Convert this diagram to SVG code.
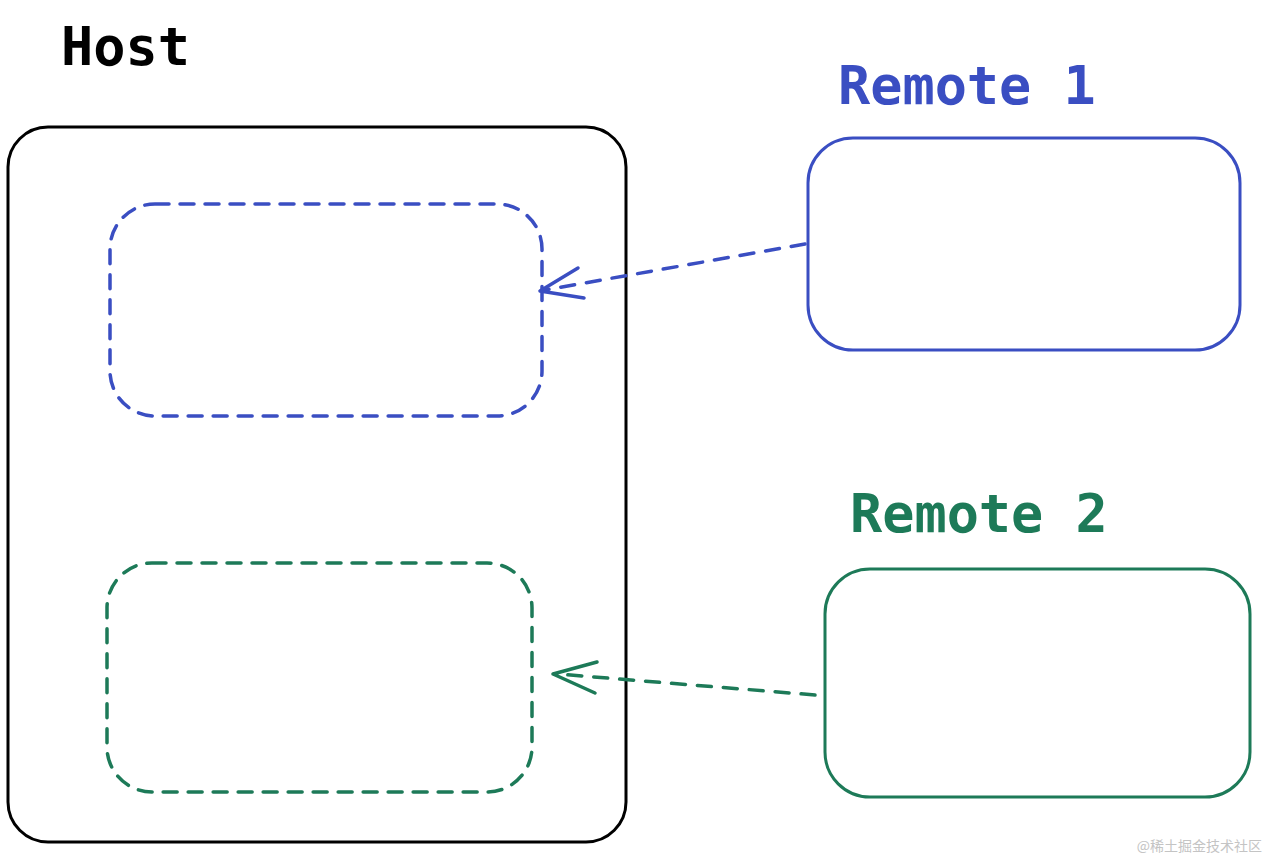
<svg xmlns="http://www.w3.org/2000/svg" width="1264" height="856" viewBox="0 0 1264 856">
<style>
.lbl{font-family:"DejaVu Sans Mono","Liberation Mono",monospace;font-size:53.5px;font-weight:bold}
.box{fill:none;stroke-width:3}
.dash{fill:none;stroke-width:3.5;stroke-dasharray:14 11;stroke-linecap:round}
.conn{fill:none;stroke-width:3.5;stroke-dasharray:14 12;stroke-linecap:round}
.head{fill:none;stroke-width:3.5;stroke-linecap:round;stroke-linejoin:round}
.blue{stroke:#3a4ec2}
.green{stroke:#1d7a58}
</style>
<rect width="1264" height="856" fill="#ffffff"/>
<g id="host">
<rect class="box" x="8" y="127" width="618" height="715" rx="40" stroke="#000"/>
<text class="lbl" x="61" y="65" fill="#000">Host</text>
</g>
<g id="slot1">
<rect class="dash blue" x="110" y="204" width="432" height="212" rx="45"/>
</g>
<g id="slot2">
<rect class="dash green" x="107" y="563" width="425" height="229" rx="45"/>
</g>
<g id="remote1">
<rect class="box blue" x="808" y="138" width="432" height="212" rx="45"/>
<text class="lbl" x="838" y="104" fill="#3a4ec2">Remote 1</text>
</g>
<g id="remote2">
<rect class="box green" x="825" y="569" width="425" height="228" rx="45"/>
<text class="lbl" x="850" y="532" fill="#1d7a58">Remote 2</text>
</g>
<g id="connectors">
<path class="conn blue" d="M805 244 L545 290"/>
<path class="head blue" d="M578 268 L540 291 L584 298"/>
<path class="conn green" d="M815 695 L558 674"/>
<path class="head green" d="M597 662 L553 674 L595 693"/>
</g>
<text x="1262" y="851" text-anchor="end" font-family="Noto Sans CJK SC, sans-serif" font-size="14" fill="#c4c4c4">@稀土掘金技术社区</text>
</svg>
